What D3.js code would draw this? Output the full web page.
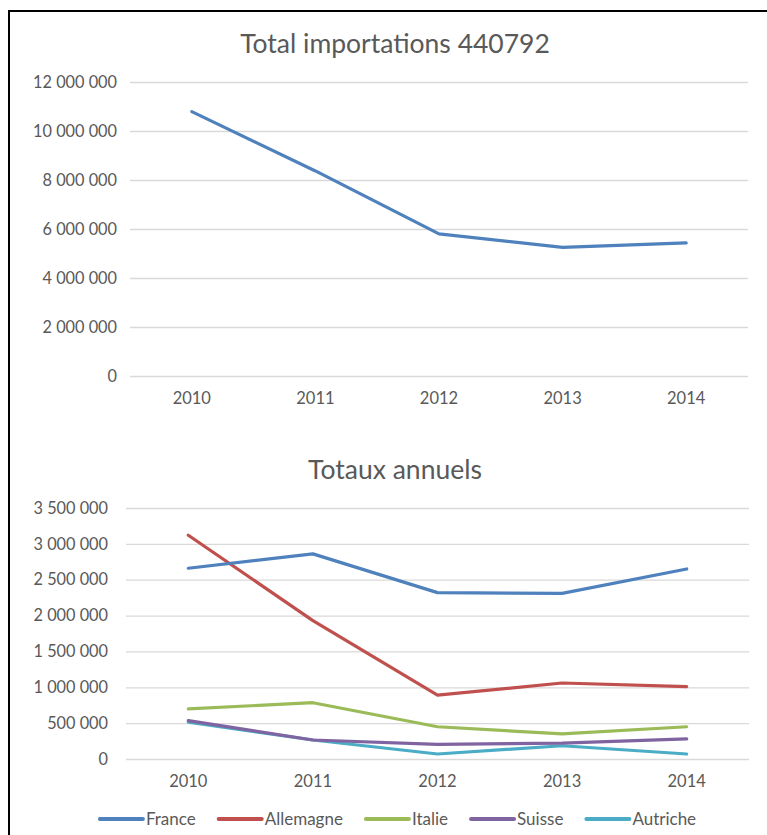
<!DOCTYPE html>
<html>
<head>
<meta charset="utf-8">
<script src="https://cdn.jsdelivr.net/npm/d3@7"></script>
<style>
  body { margin: 0; background: #fff; }
  text { font-family: Lato, "Open Sans", sans-serif; fill: #595959; }
  .grid line { stroke: #d9d9d9; stroke-width: 1.3; }
</style>
</head>
<body>
<div id="chart"></div>
<script>
// data
const years = ['2010', '2011', '2012', '2013', '2014'];
const totalImports = [10790000, 8370000, 5800000, 5250000, 5430000];

const countries = ['France', 'Allemagne', 'Italie', 'Suisse', 'Autriche'];
const france    = [2660000, 2860000, 2320000, 2310000, 2650000];
const allemagne = [3120000, 1930000, 890000, 1060000, 1010000];
const italie    = [700000, 785000, 450000, 350000, 450000];
const suisse    = [535000, 265000, 205000, 220000, 280000];
const autriche  = [515000, 265000, 70000, 185000, 70000];
const colors = ['#4f81bd', '#c0504d', '#9bbb59', '#8064a2', '#4bacc6'];

const W = 767, H = 835;
const fr = d3.formatLocale({ decimal: ',', thousands: '\u00a0', grouping: [3] }).format(',');

const svg = d3.select('#chart')
    .append('svg')
    .attr('width', W)
    .attr('height', H);

// frame (left and top edges only are visible)
svg.append('path')
    .attr('d', `M9,${H} L9,11 L${W},11`)
    .attr('fill', 'none')
    .attr('stroke', '#000')
    .attr('stroke-width', 2);

function lineChart(opts) {
    const { left, right, top, bottom, max, step, title, titleY, labelGap, yearGap, series } = opts;

    const x = d3.scaleBand().domain(years).range([left, right]);
    const y = d3.scaleLinear().domain([0, max]).range([bottom, top]);

    const g = svg.append('g');

    g.append('text')
        .attr('x', 395)
        .attr('y', titleY)
        .attr('text-anchor', 'middle')
        .style('font-size', '26.5px')
        .text(title);

    const yAxis = d3.axisLeft(y)
        .tickValues(d3.range(0, max + 1, step))
        .tickSize(-(right - left))
        .tickPadding(labelGap)
        .tickFormat(fr);

    g.append('g')
        .attr('class', 'grid')
        .attr('transform', `translate(${left},0)`)
        .call(yAxis)
        .call(a => a.select('.domain').remove())
        .call(a => a.selectAll('text').style('font-size', '16.3px').attr('fill', '#595959'));

    g.append('g')
        .selectAll('text')
        .data(years)
        .join('text')
        .attr('x', d => x(d) + x.bandwidth() / 2)
        .attr('y', bottom + yearGap)
        .attr('text-anchor', 'middle')
        .style('font-size', '16.5px')
        .text(d => d);

    const line = d3.line()
        .x((d, i) => x(years[i]) + x.bandwidth() / 2)
        .y(d => y(d));

    g.selectAll('.series')
        .data(series)
        .join('path')
        .attr('class', 'series')
        .attr('fill', 'none')
        .attr('stroke', s => s.color)
        .attr('stroke-width', 3.2)
        .attr('stroke-linecap', 'round')
        .attr('stroke-linejoin', 'round')
        .attr('d', s => line(s.values));
}

lineChart({
    left: 130, right: 748, top: 82, bottom: 376,
    max: 12000000, step: 2000000,
    title: 'Total importations 440792', titleY: 53,
    labelGap: 13, yearGap: 28,
    series: [{ values: totalImports, color: colors[0] }]
});

const bottomSeries = [france, allemagne, italie, suisse, autriche]
    .map((v, i) => ({ name: countries[i], values: v, color: colors[i] }));

// draw in reverse so France ends on top like the original
lineChart({
    left: 126, right: 749, top: 508, bottom: 759,
    max: 3500000, step: 500000,
    title: 'Totaux annuels', titleY: 479,
    labelGap: 18, yearGap: 28,
    series: bottomSeries.slice().reverse()
});

// legend
const legend = svg.append('g').attr('class', 'legend');
const items = legend.selectAll('g')
    .data(bottomSeries)
    .join('g');

items.append('line')
    .attr('x1', 0).attr('x2', 43)
    .attr('y1', 0).attr('y2', 0)
    .attr('stroke', d => d.color)
    .attr('stroke-width', 4)
    .attr('stroke-linecap', 'round');

items.append('text')
    .attr('x', 46)
    .attr('y', 5.5)
    .style('font-size', '17px')
    .text(d => d.name);

let cx = 0;
items.each(function () {
    const w = 46 + d3.select(this).select('text').node().getComputedTextLength();
    d3.select(this).attr('transform', `translate(${cx},819)`);
    cx += w + 23;
});
const total = cx - 23;
legend.attr('transform', `translate(${398 - total / 2},0)`);
</script>
</body>
</html>
